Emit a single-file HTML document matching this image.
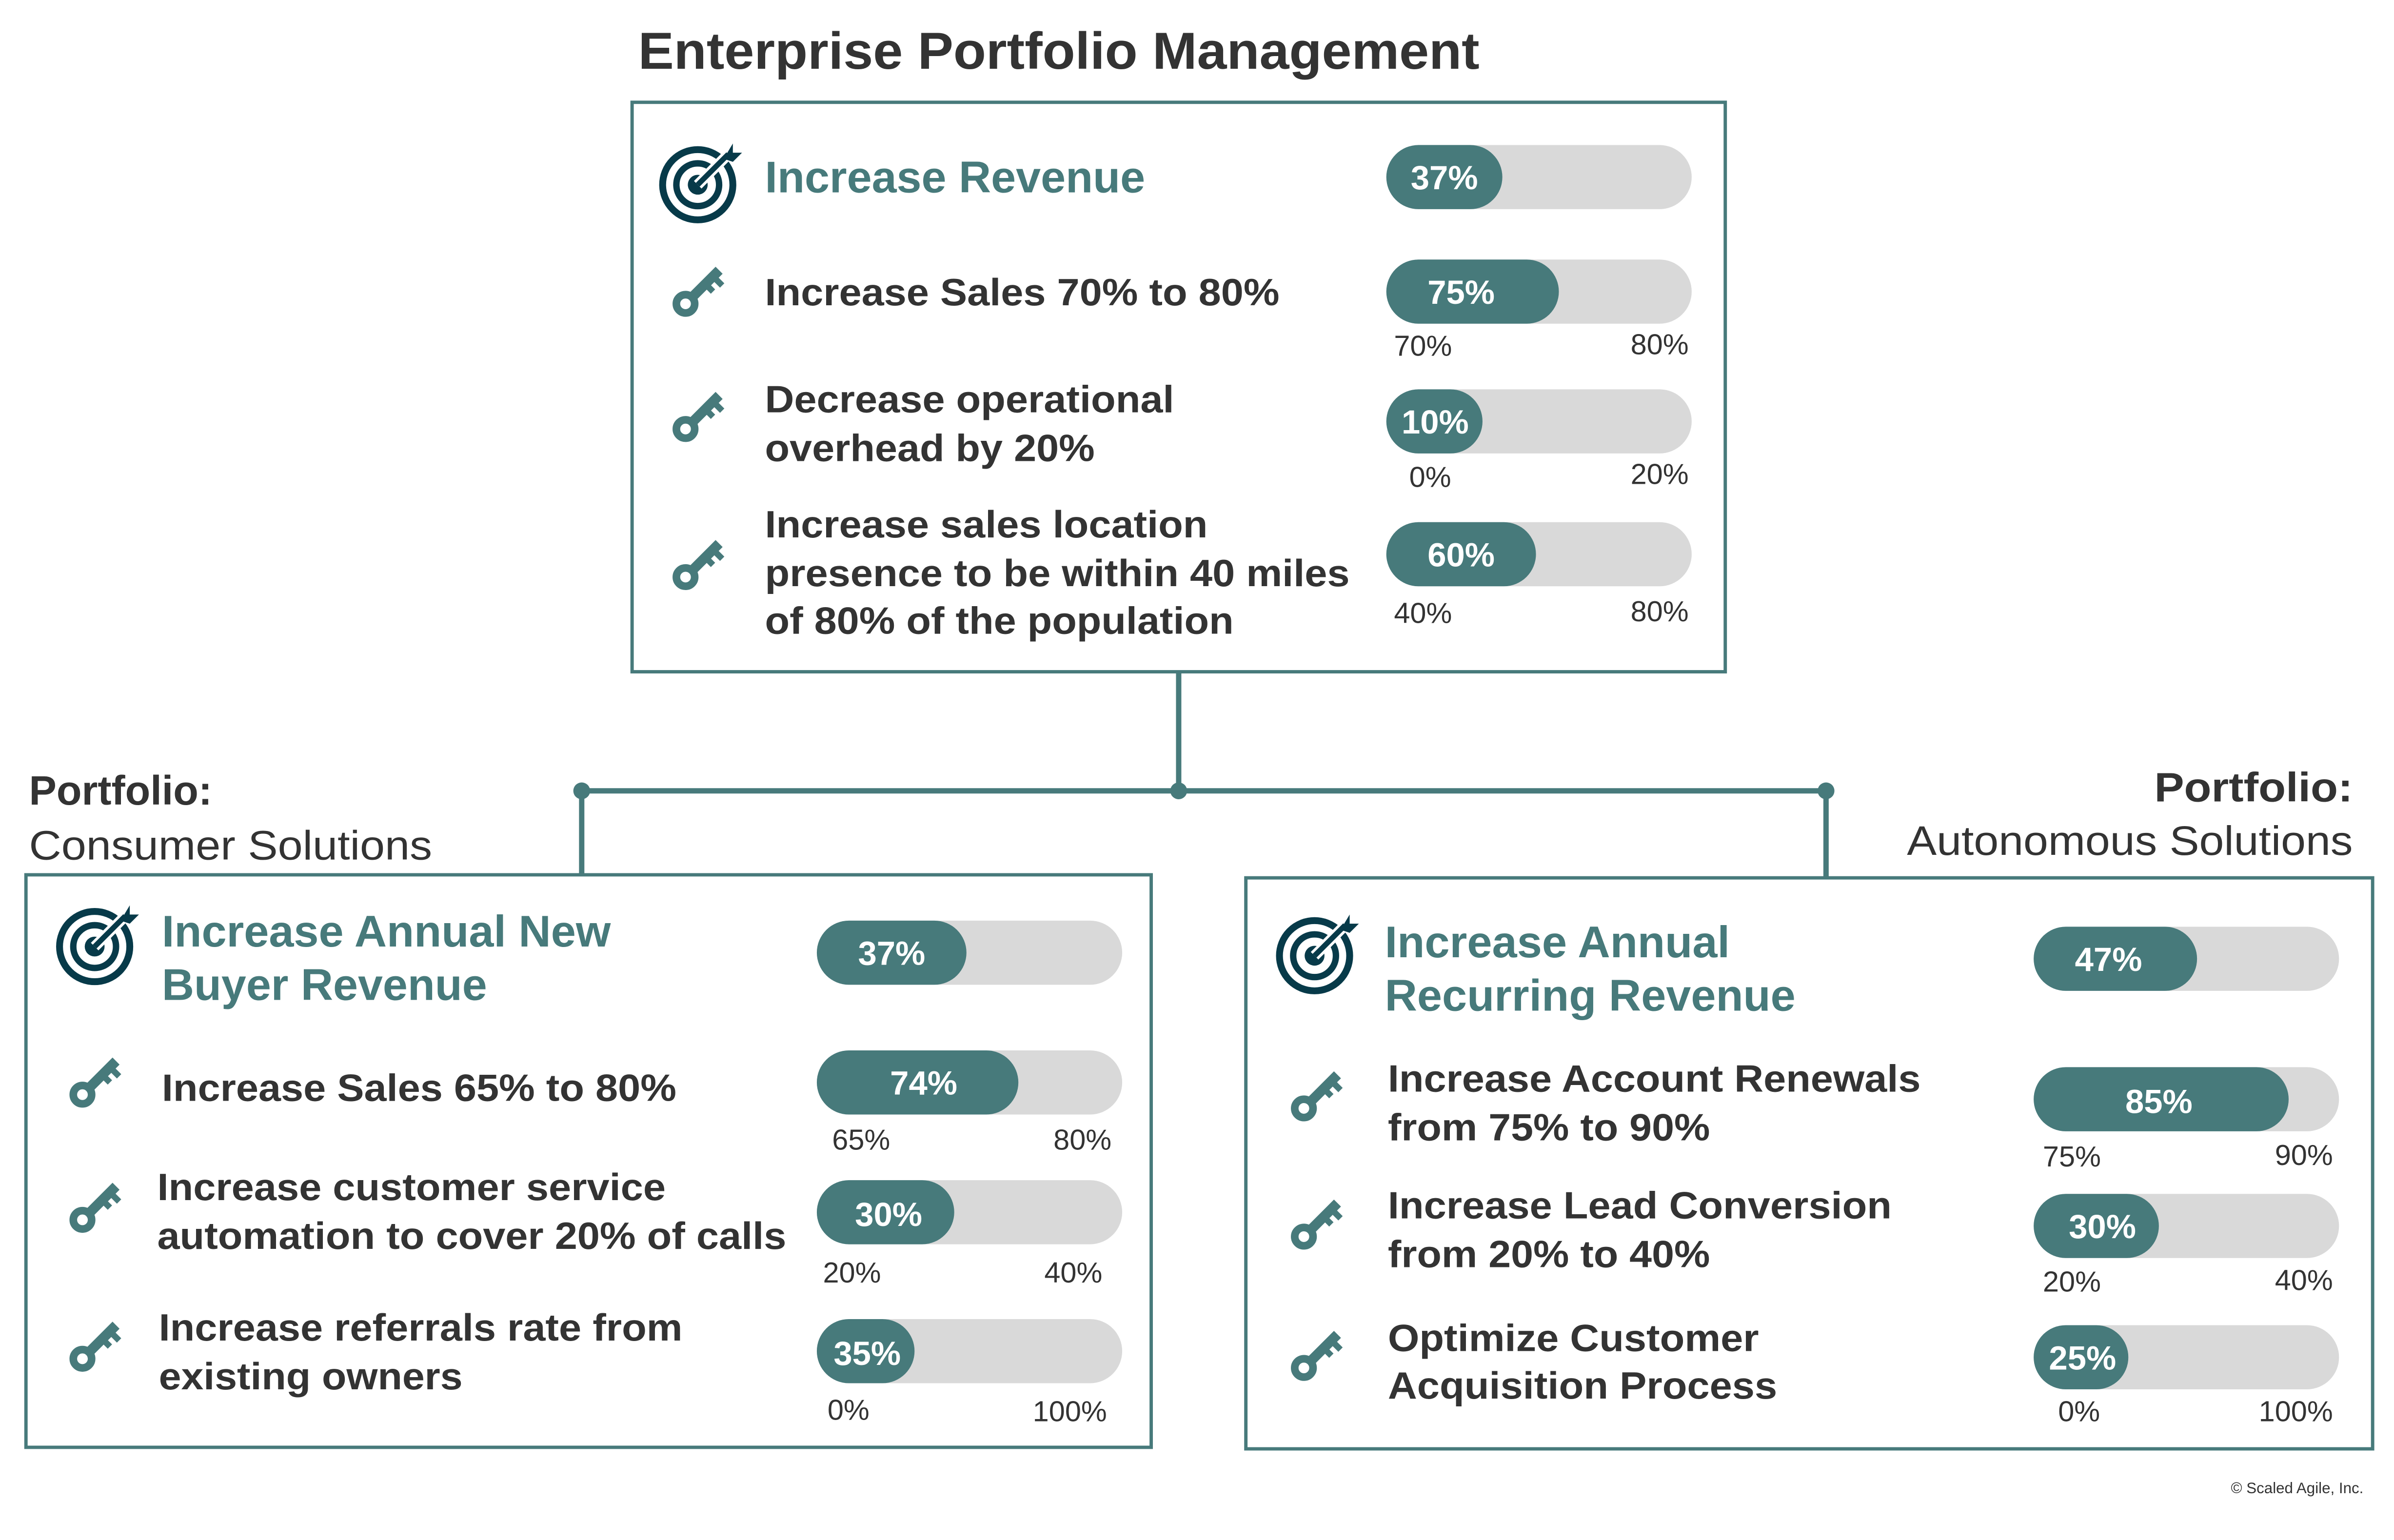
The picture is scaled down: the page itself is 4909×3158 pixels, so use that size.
<!DOCTYPE html>
<html><head><meta charset="utf-8"><style>
html,body{margin:0;padding:0;background:#fff;}
svg{display:block;}
text{font-family:"Liberation Sans",Arial,sans-serif;}
.b{font-weight:bold;}
.t{fill:#477a7b;font-weight:bold;font-size:29px;}
.i{fill:#333;font-weight:bold;font-size:25px;}
.p{fill:#fff;font-weight:bold;font-size:22px;}
.l{fill:#333;font-size:19px;}
</style></head><body>
<svg width="4909" height="3158" viewBox="0 0 1568 1008.7" xmlns="http://www.w3.org/2000/svg">
<defs>
<g id="key">
<circle cx="-9" cy="9" r="6" fill="none" stroke="#477a7b" stroke-width="5"/>
<line x1="-5" y1="5" x2="13" y2="-13" stroke="#477a7b" stroke-width="6.5"/>
<line x1="4" y1="-4" x2="9" y2="1" stroke="#477a7b" stroke-width="4"/>
<line x1="9" y1="-9" x2="15" y2="-3" stroke="#477a7b" stroke-width="4"/>
</g>
<g id="tgt">
<circle cx="0" cy="0" r="23" fill="none" stroke="#073a49" stroke-width="4.5"/>
<circle cx="0" cy="0" r="14" fill="none" stroke="#073a49" stroke-width="4.2"/>
<circle cx="0" cy="0" r="6.5" fill="#073a49"/>
<line x1="0" y1="0" x2="24" y2="-24" stroke="#fff" stroke-width="7"/>
<line x1="0" y1="0" x2="20" y2="-20" stroke="#073a49" stroke-width="3.5"/>
<polygon points="17,-17 23,-27 23,-21 29,-21 23,-15" fill="#073a49"/>
</g>
</defs>
<rect width="1568" height="1008.7" fill="#fff"/>
<text x="418" y="45" class="b" font-size="34" fill="#333" textLength="551" lengthAdjust="spacingAndGlyphs">Enterprise Portfolio Management</text>

<g stroke="#477a7b" stroke-width="3.5" fill="none">
<line x1="772" y1="440" x2="772" y2="518"/>
<line x1="381" y1="518" x2="1196" y2="518"/>
<line x1="381" y1="518" x2="381" y2="573"/>
<line x1="1196" y1="518" x2="1196" y2="575"/>
</g>
<g fill="#477a7b"><circle cx="381" cy="518" r="5.5"/><circle cx="772" cy="518" r="5.5"/><circle cx="1196" cy="518" r="5.5"/></g>

<g fill="none" stroke="#477a7b" stroke-width="2.2">
<rect x="414" y="67" width="716" height="373"/>
<rect x="17" y="573" width="737" height="375"/>
<rect x="816" y="575" width="738" height="374"/>
</g>

<use href="#tgt" x="457" y="121"/>
<text x="501" y="126" class="t" textLength="249" lengthAdjust="spacingAndGlyphs">Increase Revenue</text>
<use href="#key" x="458" y="190"/>
<use href="#key" x="458" y="272"/>
<use href="#key" x="458" y="369"/>
<text x="501" y="200" class="i" textLength="337" lengthAdjust="spacingAndGlyphs">Increase Sales 70% to 80%</text>
<text x="501" y="270" class="i" textLength="268" lengthAdjust="spacingAndGlyphs">Decrease operational</text>
<text x="501" y="302" class="i" textLength="216" lengthAdjust="spacingAndGlyphs">overhead by 20%</text>
<text x="501" y="352" class="i" textLength="290" lengthAdjust="spacingAndGlyphs">Increase sales location</text>
<text x="501" y="384" class="i" textLength="383" lengthAdjust="spacingAndGlyphs">presence to be within 40 miles</text>
<text x="501" y="415" class="i" textLength="307" lengthAdjust="spacingAndGlyphs">of 80% of the population</text>

<g>
<rect x="908" y="95" width="200" height="42" rx="21" fill="#d9d9d9"/><rect x="908" y="95" width="76" height="42" rx="21" fill="#477a7b"/><text x="946" y="124" class="p" text-anchor="middle">37%</text>
<rect x="908" y="170" width="200" height="42" rx="21" fill="#d9d9d9"/><rect x="908" y="170" width="113" height="42" rx="21" fill="#477a7b"/><text x="957" y="199" class="p" text-anchor="middle">75%</text>
<text x="913" y="233" class="l">70%</text><text x="1106" y="232" class="l" text-anchor="end">80%</text>
<rect x="908" y="255" width="200" height="42" rx="21" fill="#d9d9d9"/><rect x="908" y="255" width="63" height="42" rx="21" fill="#477a7b"/><text x="940" y="284" class="p" text-anchor="middle">10%</text>
<text x="923" y="319" class="l">0%</text><text x="1106" y="317" class="l" text-anchor="end">20%</text>
<rect x="908" y="342" width="200" height="42" rx="21" fill="#d9d9d9"/><rect x="908" y="342" width="98" height="42" rx="21" fill="#477a7b"/><text x="957" y="371" class="p" text-anchor="middle">60%</text>
<text x="913" y="408" class="l">40%</text><text x="1106" y="407" class="l" text-anchor="end">80%</text>
</g>

<text x="19" y="527" class="b" font-size="27" fill="#333">Portfolio:</text>
<text x="19" y="563" font-size="27" fill="#333" textLength="264" lengthAdjust="spacingAndGlyphs">Consumer Solutions</text>
<use href="#tgt" x="62" y="620"/>
<text x="106" y="620" class="t" textLength="294" lengthAdjust="spacingAndGlyphs">Increase Annual New</text>
<text x="106" y="655" class="t" textLength="213" lengthAdjust="spacingAndGlyphs">Buyer Revenue</text>
<use href="#key" x="63" y="708"/>
<use href="#key" x="63" y="790"/>
<use href="#key" x="63" y="881"/>
<text x="106" y="721" class="i" textLength="337" lengthAdjust="spacingAndGlyphs">Increase Sales 65% to 80%</text>
<text x="103" y="786" class="i" textLength="333" lengthAdjust="spacingAndGlyphs">Increase customer service</text>
<text x="103" y="818" class="i" textLength="412" lengthAdjust="spacingAndGlyphs">automation to cover 20% of calls</text>
<text x="104" y="878" class="i" textLength="343" lengthAdjust="spacingAndGlyphs">Increase referrals rate from</text>
<text x="104" y="910" class="i" textLength="199" lengthAdjust="spacingAndGlyphs">existing owners</text>
<g>
<rect x="535" y="603" width="200" height="42" rx="21" fill="#d9d9d9"/><rect x="535" y="603" width="98" height="42" rx="21" fill="#477a7b"/><text x="584" y="632" class="p" text-anchor="middle">37%</text>
<rect x="535" y="688" width="200" height="42" rx="21" fill="#d9d9d9"/><rect x="535" y="688" width="132" height="42" rx="21" fill="#477a7b"/><text x="605" y="717" class="p" text-anchor="middle">74%</text>
<text x="545" y="753" class="l">65%</text><text x="728" y="753" class="l" text-anchor="end">80%</text>
<rect x="535" y="773" width="200" height="42" rx="21" fill="#d9d9d9"/><rect x="535" y="773" width="90" height="42" rx="21" fill="#477a7b"/><text x="582" y="803" class="p" text-anchor="middle">30%</text>
<text x="539" y="840" class="l">20%</text><text x="722" y="840" class="l" text-anchor="end">40%</text>
<rect x="535" y="864" width="200" height="42" rx="21" fill="#d9d9d9"/><rect x="535" y="864" width="64" height="42" rx="21" fill="#477a7b"/><text x="568" y="894" class="p" text-anchor="middle">35%</text>
<text x="542" y="930" class="l">0%</text><text x="725" y="931" class="l" text-anchor="end">100%</text>
</g>

<text x="1541" y="525" class="b" font-size="27" fill="#333" text-anchor="end" textLength="130" lengthAdjust="spacingAndGlyphs">Portfolio:</text>
<text x="1541" y="560" font-size="27" fill="#333" text-anchor="end" textLength="292" lengthAdjust="spacingAndGlyphs">Autonomous Solutions</text>
<use href="#tgt" x="861" y="626"/>
<text x="907" y="627" class="t" textLength="226" lengthAdjust="spacingAndGlyphs">Increase Annual</text>
<text x="907" y="662" class="t" textLength="269" lengthAdjust="spacingAndGlyphs">Recurring Revenue</text>
<use href="#key" x="863" y="717"/>
<use href="#key" x="863" y="801"/>
<use href="#key" x="863" y="887"/>
<text x="909" y="715" class="i" textLength="349" lengthAdjust="spacingAndGlyphs">Increase Account Renewals</text>
<text x="909" y="747" class="i" textLength="211" lengthAdjust="spacingAndGlyphs">from 75% to 90%</text>
<text x="909" y="798" class="i" textLength="330" lengthAdjust="spacingAndGlyphs">Increase Lead Conversion</text>
<text x="909" y="830" class="i" textLength="211" lengthAdjust="spacingAndGlyphs">from 20% to 40%</text>
<text x="909" y="885" class="i" textLength="243" lengthAdjust="spacingAndGlyphs">Optimize Customer</text>
<text x="909" y="916" class="i" textLength="255" lengthAdjust="spacingAndGlyphs">Acquisition Process</text>
<g>
<rect x="1332" y="607" width="200" height="42" rx="21" fill="#d9d9d9"/><rect x="1332" y="607" width="107" height="42" rx="21" fill="#477a7b"/><text x="1381" y="636" class="p" text-anchor="middle">47%</text>
<rect x="1332" y="699" width="200" height="42" rx="21" fill="#d9d9d9"/><rect x="1332" y="699" width="167" height="42" rx="21" fill="#477a7b"/><text x="1414" y="729" class="p" text-anchor="middle">85%</text>
<text x="1338" y="764" class="l">75%</text><text x="1528" y="763" class="l" text-anchor="end">90%</text>
<rect x="1332" y="782" width="200" height="42" rx="21" fill="#d9d9d9"/><rect x="1332" y="782" width="82" height="42" rx="21" fill="#477a7b"/><text x="1377" y="811" class="p" text-anchor="middle">30%</text>
<text x="1338" y="846" class="l">20%</text><text x="1528" y="845" class="l" text-anchor="end">40%</text>
<rect x="1332" y="868" width="200" height="42" rx="21" fill="#d9d9d9"/><rect x="1332" y="868" width="62" height="42" rx="21" fill="#477a7b"/><text x="1364" y="897" class="p" text-anchor="middle">25%</text>
<text x="1348" y="931" class="l">0%</text><text x="1528" y="931" class="l" text-anchor="end">100%</text>
</g>

<text x="1548" y="978" font-size="10" fill="#333" text-anchor="end">© Scaled Agile, Inc.</text>
</svg>
</body></html>
